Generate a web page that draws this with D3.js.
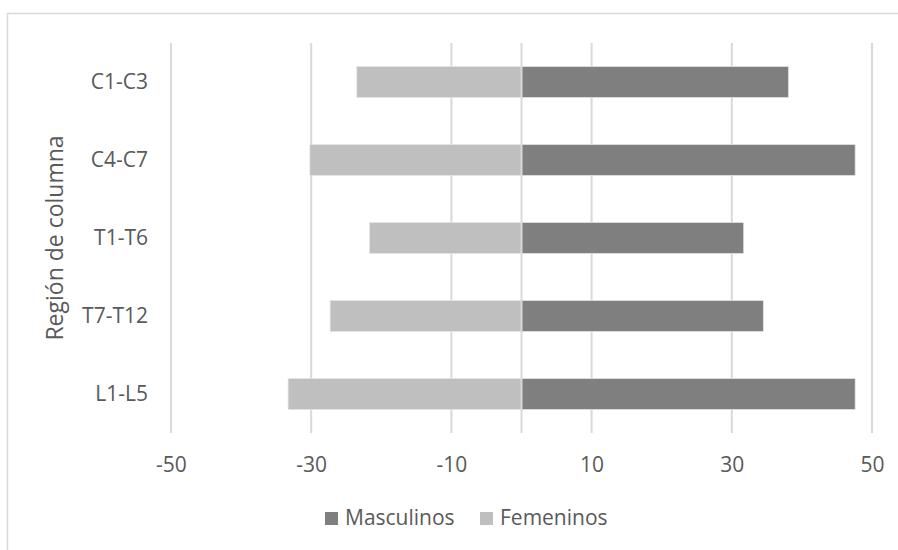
<!DOCTYPE html>
<html><head><meta charset="utf-8">
<script src="https://cdn.jsdelivr.net/npm/d3@7"></script>
<style>html,body{margin:0;padding:0;background:#fff;}svg{display:block;}</style>
</head><body>
<svg id="c" width="898" height="550"></svg>
<script>
const categories = ["C1-C3","C4-C7","T1-T6","T7-T12","L1-L5"];
const masculinos = [38.1, 47.6, 31.7, 34.5, 47.6];
const femeninos = [-23.5, -30.2, -21.7, -27.3, -33.3];
const xTicks = [-50,-30,-10,10,30,50];
const seriesNames = ["Masculinos","Femeninos"];
const colors = ["#7f7f7f","#bfbfbf"];

const svg = d3.select("#c");
const font = "'Open Sans', sans-serif";
const textColor = "#595959";

// chart border
svg.append("rect").attr("x",7.5).attr("y",13.5).attr("width",1000).attr("height",1000)
  .attr("fill","none").attr("stroke","#d9d9d9").attr("stroke-width",1.5);

const x = d3.scaleLinear().domain([-50,50]).range([171,872]);
const y = d3.scaleBand().domain(categories).range([43,433]).paddingInner(0.6).paddingOuter(0.3);

// gridlines
svg.append("g").selectAll("line").data(xTicks).join("line")
  .attr("x1",d=>x(d)).attr("x2",d=>x(d)).attr("y1",43).attr("y2",433)
  .attr("stroke","#d9d9d9").attr("stroke-width",2);

const data = categories.map((c,i)=>({c, m:masculinos[i], f:femeninos[i]}));
// female bars
svg.append("g").selectAll("rect").data(data).join("rect")
  .attr("x",d=>x(d.f)).attr("width",d=>x(0)-x(d.f))
  .attr("y",d=>y(d.c)).attr("height",y.bandwidth())
  .attr("fill",colors[1]).attr("stroke","#e8e8e8").attr("stroke-width",0.75);
// male bars
svg.append("g").selectAll("rect").data(data).join("rect")
  .attr("x",x(0)).attr("width",d=>x(d.m)-x(0))
  .attr("y",d=>y(d.c)).attr("height",y.bandwidth())
  .attr("fill",colors[0]).attr("stroke","#e8e8e8").attr("stroke-width",0.75);

// zero line
svg.append("line").attr("x1",x(0)).attr("x2",x(0)).attr("y1",43).attr("y2",433)
  .attr("stroke","#d9d9d9").attr("stroke-width",2);

// x axis labels (hyphen-minus as in reference)
const xAxis = d3.axisBottom(x).tickValues(xTicks).tickSize(0).tickPadding(0)
  .tickFormat(d => String(d));
const gx = svg.append("g").attr("transform","translate(0,465)").call(xAxis);
gx.select(".domain").remove();
gx.selectAll("text").attr("font-family",font).attr("font-size",21).attr("fill",textColor)
  .attr("dy","0.35em");

// y axis labels
const yAxis = d3.axisLeft(y).tickSize(0).tickPadding(0);
const gy = svg.append("g").attr("transform","translate(148,0)").call(yAxis);
gy.select(".domain").remove();
gy.selectAll("text").attr("font-family",font).attr("font-size",21).attr("fill",textColor).attr("dy","0.35em");

// y axis title
svg.append("text").attr("transform","translate(63,238) rotate(-90)")
  .attr("text-anchor","middle").attr("font-family",font).attr("font-size",23).attr("fill",textColor)
  .text("Región de columna");

// legend
const legendX = [325, 480];
const lg = svg.append("g").selectAll("g").data(seriesNames).join("g")
  .attr("transform",(d,i)=>`translate(${legendX[i]},512)`);
lg.append("rect").attr("width",13).attr("height",13).attr("fill",(d,i)=>colors[i]);
lg.append("text").attr("x",20).attr("y",13).attr("font-family",font).attr("font-size",21)
  .attr("fill",textColor).text(d=>d);
</script>
</body></html>
